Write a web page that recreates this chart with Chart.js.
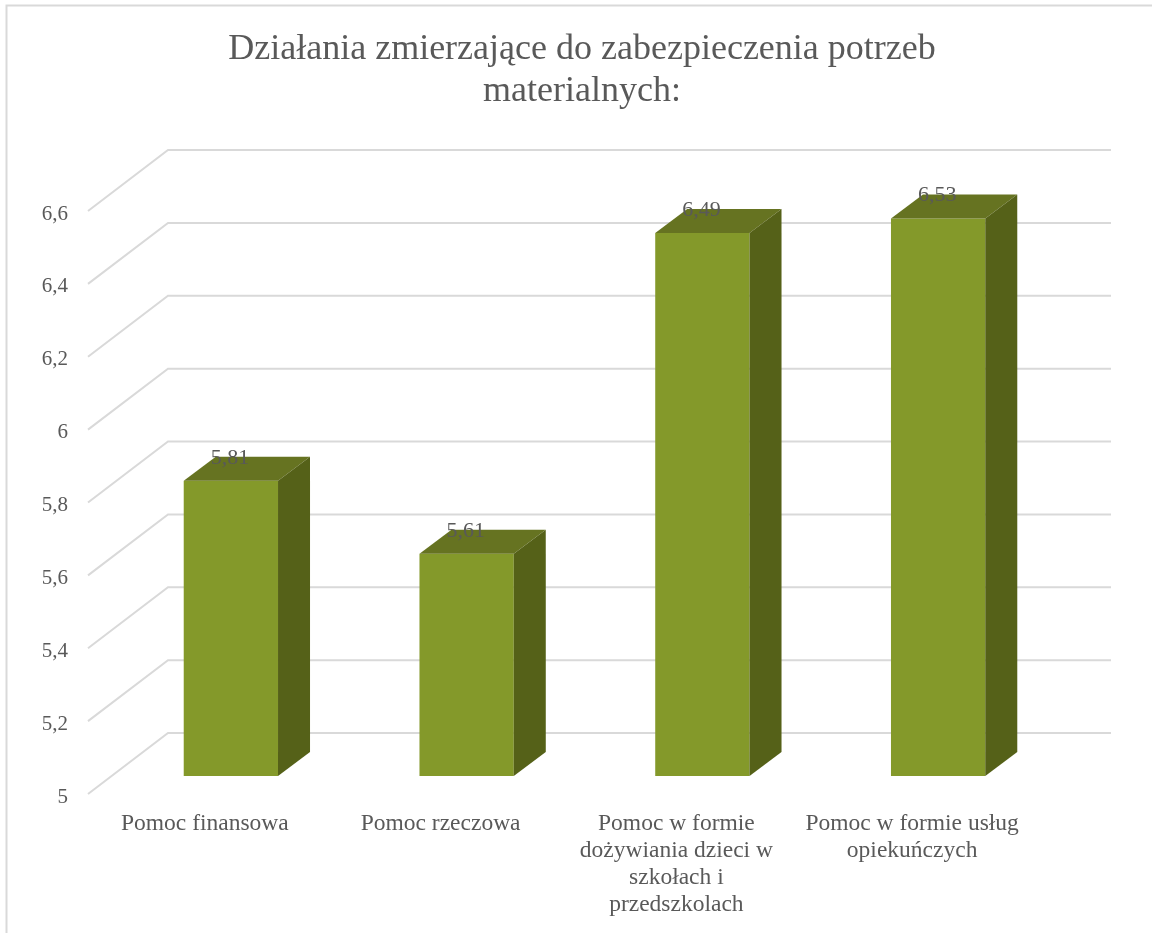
<!DOCTYPE html>
<html lang="pl">
<head>
<meta charset="utf-8">
<title>Działania zmierzające do zabezpieczenia potrzeb materialnych</title>
<script src="https://cdn.jsdelivr.net/npm/chart.js@4/dist/chart.umd.min.js"></script>
<style>
  html, body { margin: 0; padding: 0; background: #fff; }
  canvas { display: block; }
</style>
</head>
<body>
<canvas id="chart" width="1152" height="933"></canvas>
<script>
// Data
const categories = [
    'Pomoc finansowa',
    'Pomoc rzeczowa',
    ['Pomoc w formie', 'dożywiania dzieci w', 'szkołach i', 'przedszkolach'],
    ['Pomoc w formie usług', 'opiekuńczych']
];
const values = [5.81, 5.61, 6.49, 6.53];
const titleLines = ['Działania zmierzające do zabezpieczenia potrzeb', 'materialnych:'];
const axisMin = 5;
const axisMax = 6.6;
const axisStep = 0.2;

const serif = '"Liberation Serif", serif';
const textColor = '#595959';
const gridColor = '#d9d9d9';

// Depth of the back wall, and where the bars stand between it and the axis
const wall = { dx: 80, dy: -61 };
const barShift = { dx: 25, dy: -18 };
const barDepth = { dx: 32, dy: -24 };

const comma = v => String(v).replace('.', ',');

// Chart frame: only the top and left edges are visible
const framePlugin = {
    id: 'frame',
    beforeDraw(chart) {
        const ctx = chart.ctx;
        ctx.save();
        ctx.strokeStyle = gridColor;
        ctx.lineWidth = 2;
        ctx.beginPath();
        ctx.moveTo(6.5, chart.height);
        ctx.lineTo(6.5, 5.5);
        ctx.lineTo(chart.width, 5.5);
        ctx.stroke();
        ctx.restore();
    }
};

// Title is centred on the whole frame, not on the plot
const titlePlacement = {
    id: 'titlePlacement',
    afterLayout(chart) {
        chart.titleBlock.left = 12;
        chart.titleBlock.right = chart.width;
    }
};

// Side wall and back wall grid lines
const wallGrid = {
    id: 'wallGrid',
    beforeDatasetsDraw(chart) {
        const { ctx, chartArea, scales } = chart;
        ctx.save();
        ctx.strokeStyle = gridColor;
        ctx.lineWidth = 2;
        scales.y.ticks.forEach(tick => {
            const y = scales.y.getPixelForValue(tick.value);
            ctx.beginPath();
            ctx.moveTo(chartArea.left, y);
            ctx.lineTo(chartArea.left + wall.dx, y + wall.dy);
            ctx.lineTo(chartArea.right + wall.dx, y + wall.dy);
            ctx.stroke();
        });
        ctx.restore();
    }
};

// Moves the bars off the axis plane and adds their top and side faces
const bars3d = {
    id: 'bars3d',
    beforeDatasetDraw(chart) {
        chart.ctx.save();
        chart.ctx.translate(barShift.dx, barShift.dy);
    },
    afterDatasetDraw(chart, args) {
        const ctx = chart.ctx;
        args.meta.data.forEach(bar => {
            const left = bar.x - bar.width / 2;
            const right = bar.x + bar.width / 2;
            ctx.fillStyle = '#667321';
            ctx.beginPath();
            ctx.moveTo(left, bar.y);
            ctx.lineTo(left + barDepth.dx, bar.y + barDepth.dy);
            ctx.lineTo(right + barDepth.dx, bar.y + barDepth.dy);
            ctx.lineTo(right, bar.y);
            ctx.closePath();
            ctx.fill();
            ctx.fillStyle = '#556118';
            ctx.beginPath();
            ctx.moveTo(right, bar.y);
            ctx.lineTo(right + barDepth.dx, bar.y + barDepth.dy);
            ctx.lineTo(right + barDepth.dx, bar.base + barDepth.dy);
            ctx.lineTo(right, bar.base);
            ctx.closePath();
            ctx.fill();
        });
        ctx.restore();
    },
    afterDatasetsDraw(chart) {
        const ctx = chart.ctx;
        ctx.save();
        ctx.font = '22px ' + serif;
        ctx.fillStyle = textColor;
        ctx.textAlign = 'center';
        ctx.textBaseline = 'middle';
        chart.getDatasetMeta(0).data.forEach((bar, i) => {
            ctx.fillText(comma(values[i]), bar.x + barShift.dx - 1, bar.y + barShift.dy + barDepth.dy + 1);
        });
        ctx.restore();
    }
};

new Chart(document.getElementById('chart'), {
    type: 'bar',
    data: {
        labels: categories,
        datasets: [{
            data: values,
            base: axisMin,
            backgroundColor: '#84992a',
            borderWidth: 0,
            barPercentage: 0.4,
            categoryPercentage: 1,
            clip: false
        }]
    },
    options: {
        responsive: false,
        animation: false,
        devicePixelRatio: 1,
        layout: { padding: { top: 29, right: 121, left: 0, bottom: 0 } },
        plugins: {
            legend: { display: false },
            tooltip: { enabled: false },
            title: {
                display: true,
                text: titleLines,
                color: textColor,
                font: { family: serif, size: 36, weight: 'normal', lineHeight: 1.167 },
                padding: { top: 0, bottom: 98 }
            }
        },
        scales: {
            x: {
                grid: { display: false },
                border: { display: false },
                ticks: {
                    color: textColor,
                    font: { family: serif, size: 23.5, lineHeight: 1.149 },
                    maxRotation: 0,
                    autoSkip: false,
                    padding: 8,
                    labelOffset: -1
                },
                afterFit(scale) { scale.height = 139; }
            },
            y: {
                min: axisMin,
                max: axisMax,
                grid: { display: false },
                border: { display: false },
                ticks: {
                    stepSize: axisStep,
                    color: textColor,
                    font: { family: serif, size: 21 },
                    padding: 12,
                    labelOffset: 3,
                    callback: v => comma(Math.round(v * 10) / 10)
                },
                afterFit(scale) { scale.width = 88; }
            }
        }
    },
    plugins: [framePlugin, titlePlacement, wallGrid, bars3d]
});
</script>
</body>
</html>
